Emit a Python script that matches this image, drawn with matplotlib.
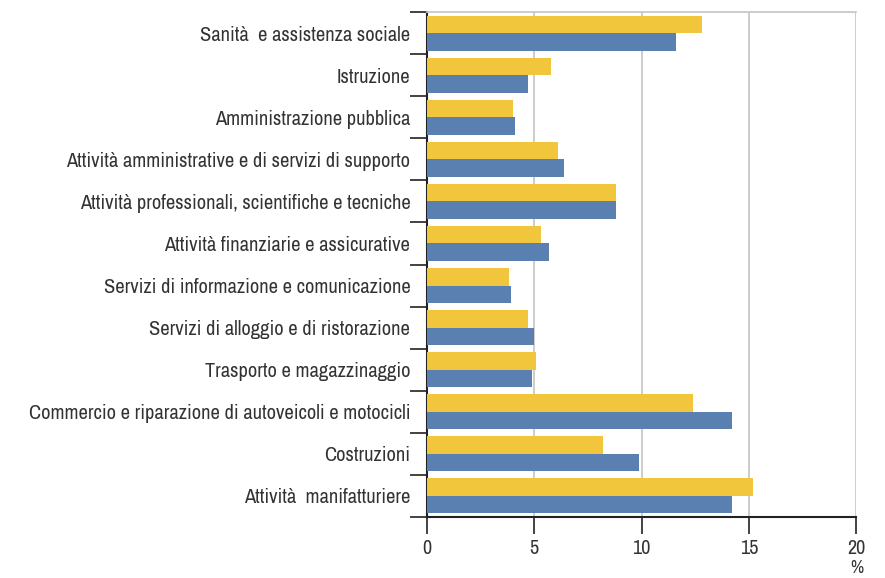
import matplotlib
matplotlib.use("Agg")
import matplotlib.pyplot as plt
import numpy as np

categories = [
    "Sanità  e assistenza sociale",
    "Istruzione",
    "Amministrazione pubblica",
    "Attività amministrative e di servizi di supporto",
    "Attività professionali, scientifiche e tecniche",
    "Attività finanziarie e assicurative",
    "Servizi di informazione e comunicazione",
    "Servizi di alloggio e di ristorazione",
    "Trasporto e magazzinaggio",
    "Commercio e riparazione di autoveicoli e motocicli",
    "Costruzioni",
    "Attività  manifatturiere",
]
yellow_values = [12.8, 5.8, 4.0, 6.1, 8.8, 5.3, 3.8, 4.7, 5.1, 12.4, 8.2, 15.2]
blue_values = [11.6, 4.7, 4.1, 6.4, 8.8, 5.7, 3.9, 5.0, 4.9, 14.2, 9.9, 14.2]
xticks = [0, 5, 10, 15, 20]

plt.rcParams["font.family"] = ["Archivo Narrow", "Barlow Condensed", "DejaVu Sans"]

YELLOW = "#F2C63C"
BLUE = "#5A7FB1"
TXT = "#333333"

fig = plt.figure(figsize=(8.85, 5.78), dpi=100)
ax = fig.add_axes([427 / 885, 1 - 517 / 578, (856 - 427) / 885, (517 - 12) / 578])

n = len(categories)
y = np.arange(n)
h = 0.415
ax.barh(y - h / 2, yellow_values, height=h, color=YELLOW, zorder=3)
ax.barh(y + h / 2, blue_values, height=h, color=BLUE, zorder=3)

ax.set_ylim(n - 0.5, -0.5)
ax.set_xlim(0, 20)

ax.set_yticks(y)
ax.set_yticklabels(categories, fontsize=14.7, color=TXT)
ax.tick_params(axis="y", which="major", length=0, pad=12)
ax.set_yticks(np.arange(-0.5, n, 1.0), minor=True)
ax.tick_params(axis="y", which="minor", length=12, width=1.2, color="#222222")

ax.set_xticks(xticks)
ax.set_xticklabels([str(v) for v in xticks], fontsize=14.5, color=TXT)
ax.tick_params(axis="x", length=12, width=1.2, color="#222222", pad=4)

for v in xticks[1:]:
    ax.axvline(v, color="#c8c8c8", lw=1.3, zorder=1)

ax.spines["top"].set_color("#c8c8c8")
ax.spines["top"].set_linewidth(1.3)
ax.spines["right"].set_visible(False)
ax.spines["left"].set_color("#222222")
ax.spines["left"].set_linewidth(1.5)
ax.spines["bottom"].set_color("#222222")
ax.spines["bottom"].set_linewidth(1.5)

fig.text(857 / 885, 1 - 576 / 578, "%", ha="center", va="bottom", fontsize=13, color=TXT)

fig.savefig("out.png", dpi=100)
